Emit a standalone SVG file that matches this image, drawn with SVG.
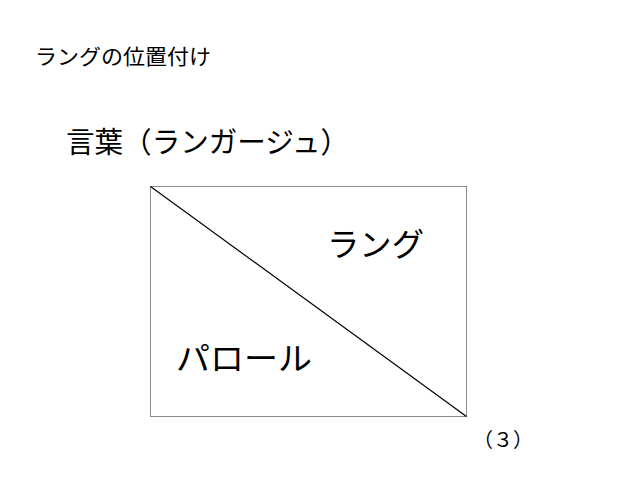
<svg xmlns="http://www.w3.org/2000/svg" width="638" height="479" viewBox="0 0 638 479">
<style>
text { font-family: "Noto Sans CJK JP", "Noto Sans", sans-serif; fill: #000; }
</style>
<rect width="638" height="479" fill="#fff"/>
<text x="35" y="64" font-size="21" textLength="176" lengthAdjust="spacingAndGlyphs">ラングの位置付け</text>
<text x="66" y="153" font-size="29" textLength="283" lengthAdjust="spacingAndGlyphs">言葉（ランガージュ）</text>
<g id="box">
<rect x="150.5" y="186.5" width="316" height="230" fill="none" stroke="#8c8c8c" stroke-width="1"/>
<line x1="150.5" y1="186.5" x2="466.5" y2="416.5" stroke="#000" stroke-width="1.2"/>
</g>
<g id="langue"><text x="327" y="256" font-size="32" textLength="97" lengthAdjust="spacingAndGlyphs">ラング</text></g>
<g id="parole"><text x="176" y="370" font-size="32" textLength="136" lengthAdjust="spacingAndGlyphs">パロール</text></g>
<text x="473" y="447" font-size="20">（３）</text>
</svg>
